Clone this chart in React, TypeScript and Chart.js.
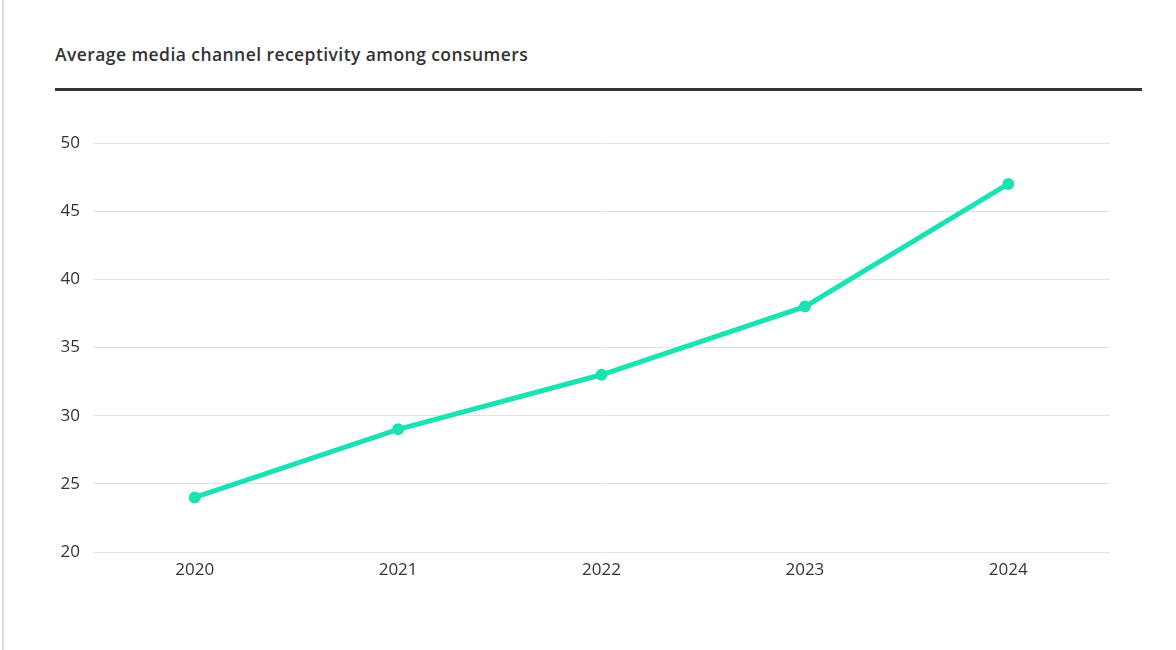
import React, { useEffect, useRef } from "react";
import { Chart, registerables } from "chart.js";

Chart.register(...registerables);

const title = "Average media channel receptivity among consumers";
const categories = ["2020", "2021", "2022", "2023", "2024"];
const receptivity = [24, 29, 33, 38, 47];
const yMin = 20;
const yMax = 50;
const yStep = 5;

export default function App() {
  const ref = useRef<HTMLCanvasElement | null>(null);

  useEffect(() => {
    if (!ref.current) return;
    const chart = new Chart(ref.current, {
      type: "line",
      data: {
        labels: categories,
        datasets: [
          {
            label: "Receptivity",
            data: receptivity,
            borderColor: "#1ae2b2",
            backgroundColor: "#1ae2b2",
            borderWidth: 5,
            pointRadius: 3.5,
            pointHoverRadius: 3.5,
            tension: 0,
          },
        ],
      },
      options: {
        animation: false,
        responsive: false,
        maintainAspectRatio: false,
        layout: { padding: { top: 143, right: 66, left: 0, bottom: 0 } },
        plugins: { legend: { display: false }, tooltip: { enabled: false } },
        scales: {
          x: {
            offset: true,
            grid: { display: false, drawTicks: false },
            border: { display: false },
            ticks: {
              color: "#333",
              padding: 8,
              font: { family: "'Open Sans'", size: 17 },
            },
            afterFit: (s: any) => {
              s.height = 98;
            },
          },
          y: {
            min: yMin,
            max: yMax,
            grid: { color: "#e3e3e3", lineWidth: 1, drawTicks: false },
            border: { display: false },
            ticks: {
              stepSize: yStep,
              color: "#333",
              padding: 13,
              font: { family: "'Open Sans'", size: 17 },
            },
            afterFit: (s: any) => {
              s.width = 93;
            },
          },
        },
      },
    });
    return () => chart.destroy();
  }, []);

  return (
    <div
      style={{
        position: "absolute",
        left: 0,
        top: 0,
        width: 1176,
        height: 650,
        background: "#fff",
        overflow: "hidden",
        fontFamily: "'Open Sans', sans-serif",
      }}
    >
      <div
        style={{
          position: "absolute",
          left: 2,
          top: 0,
          width: 2,
          height: 650,
          background: "#dcdcdc",
        }}
      />
      <div
        style={{
          position: "absolute",
          left: 55,
          top: 42,
          fontSize: 17.5,
          fontWeight: 600,
          letterSpacing: 0.43,
          color: "#333",
          whiteSpace: "nowrap",
        }}
      >
        {title}
      </div>
      <div
        style={{
          position: "absolute",
          left: 55,
          top: 88,
          width: 1087,
          height: 3,
          background: "#333",
        }}
      />
      <canvas
        ref={ref}
        width={1176}
        height={650}
        style={{ position: "absolute", left: 0, top: 0, width: 1176, height: 650 }}
      />
    </div>
  );
}
